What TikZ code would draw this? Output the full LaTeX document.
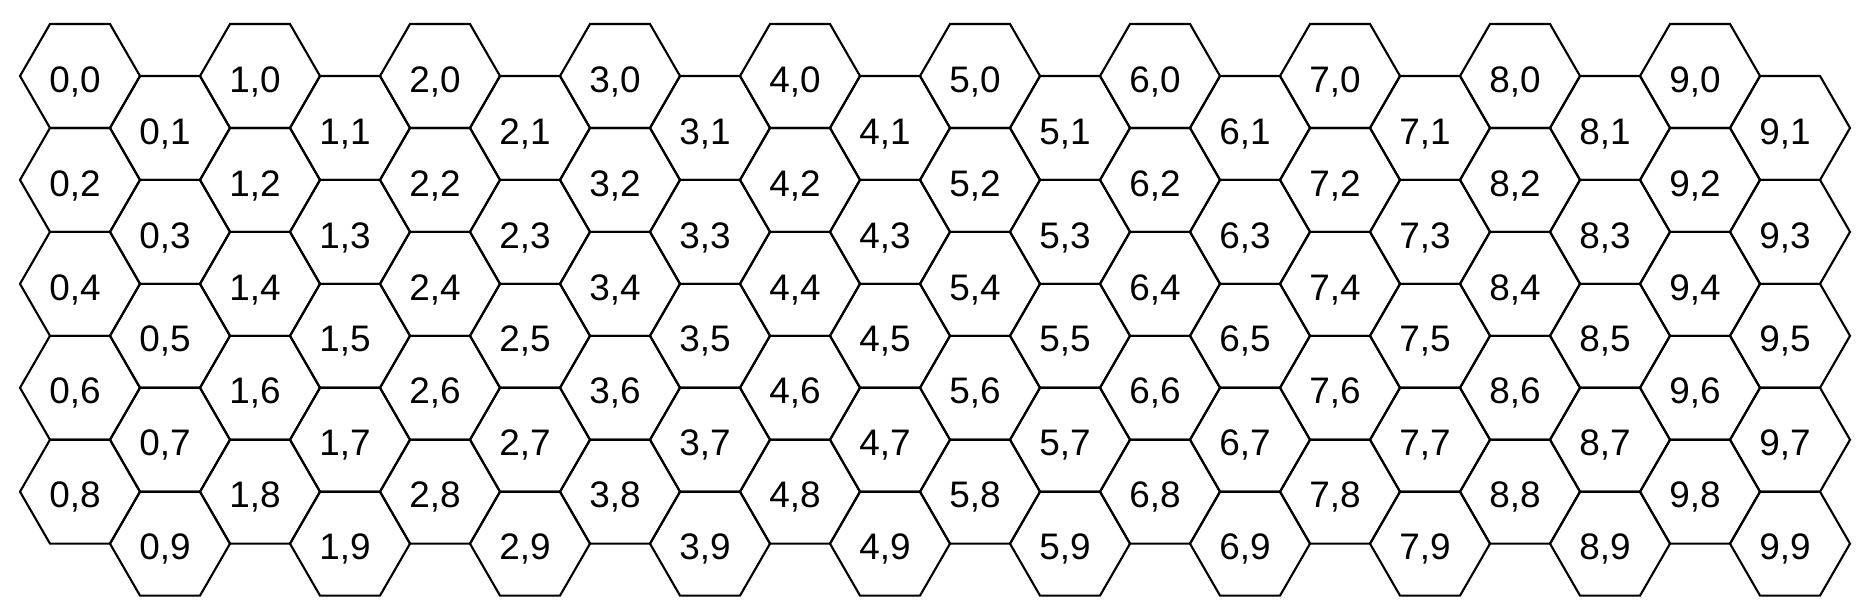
\documentclass[tikz,border=0pt]{standalone}
\usepackage{fontspec}
\setmainfont{Liberation Sans}
\usetikzlibrary{shapes.geometric}

\begin{document}
\begin{tikzpicture}[
    hexcell/.style={draw, regular polygon, regular polygon sides=6,
      minimum size=1.2cm, inner sep=0pt, outer sep=0pt, line width=0.6pt,
      text height=9.2pt, text depth=0pt,
      font=\fontsize{10.5}{12}\selectfont}]
  % Page frame
  \useasboundingbox (0,0) rectangle (18.6,-6.14);
  % Hex grid: column c, row r (odd rows shifted right and down)
  \foreach \c in {0,...,9} {
    \foreach \r in {0,...,9} {
      \pgfmathsetmacro{\hx}{0.8 + 1.8*\c + 0.9*mod(\r,2)}
      \pgfmathsetmacro{\hy}{-0.76 - 0.5196*\r}
      \node[hexcell] (h-\c-\r) at (\hx,\hy) {\c,\r\hspace*{0.1cm}};
    }
  }
\end{tikzpicture}
\end{document}
